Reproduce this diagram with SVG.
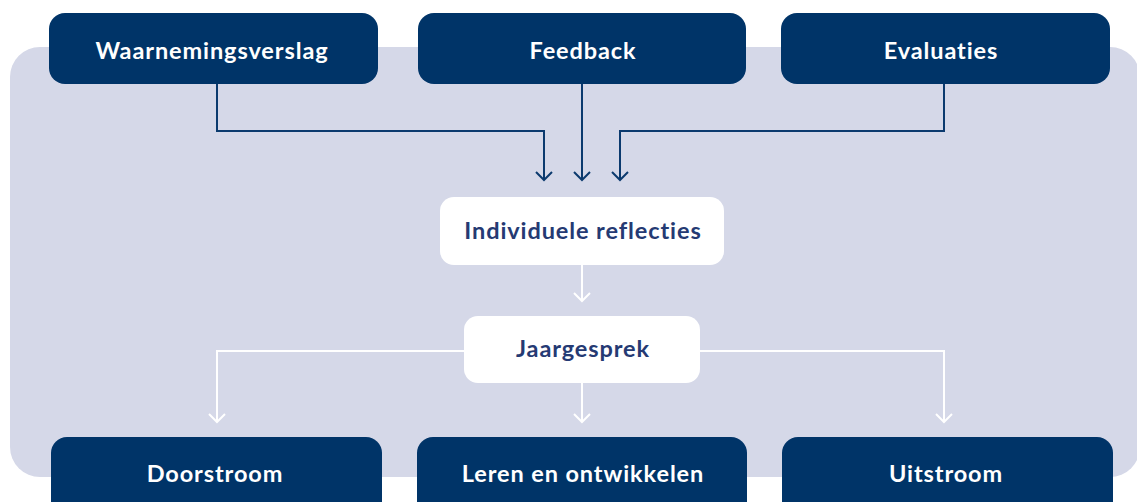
<svg xmlns="http://www.w3.org/2000/svg" width="1137" height="502" viewBox="0 0 1137 502">
  <defs>
    <style>
      .panel { fill: #d5d8e8; }
      .dark rect { fill: #003468; }
      .dark text { fill: #ffffff; }
      .light rect { fill: #ffffff; }
      .light text { fill: #253a73; }
      text { font-family: Lato, "Liberation Sans", sans-serif; font-weight: 700; font-size: 23.5px; letter-spacing: 0.9px; text-anchor: middle; }
      .in { fill: none; stroke: #0b3a6e; stroke-width: 2; }
      .out { fill: none; stroke: #ffffff; stroke-width: 2; }
    </style>
    <marker id="headDark" viewBox="0 0 20 20" refX="10" refY="10" markerWidth="20" markerHeight="20" markerUnits="userSpaceOnUse" orient="auto">
      <path d="M2,2 L10,10 L2,18" fill="none" stroke="#0b3a6e" stroke-width="2"/>
    </marker>
    <marker id="headLight" viewBox="0 0 20 20" refX="10" refY="10" markerWidth="20" markerHeight="20" markerUnits="userSpaceOnUse" orient="auto">
      <path d="M2,2 L10,10 L2,18" fill="none" stroke="#ffffff" stroke-width="2"/>
    </marker>
  </defs>

  <rect class="panel" x="10" y="47" width="1130" height="430" rx="30"/>

  <g id="connectors">
    <path class="in" d="M217,84 V131 H544 V180" marker-end="url(#headDark)"/>
    <path class="in" d="M582,84 V180" marker-end="url(#headDark)"/>
    <path class="in" d="M944,84 V131 H620 V180" marker-end="url(#headDark)"/>
    <path class="out" d="M582,265 V301" marker-end="url(#headLight)"/>
    <path class="out" d="M464,351 H217 V422" marker-end="url(#headLight)"/>
    <path class="out" d="M582,383 V422" marker-end="url(#headLight)"/>
    <path class="out" d="M700,351 H944 V422" marker-end="url(#headLight)"/>
  </g>

  <g id="waarnemingsverslag" class="dark">
    <rect x="49" y="13" width="329" height="71" rx="16"/>
    <text x="212" y="59">Waarnemingsverslag</text>
  </g>
  <g id="feedback" class="dark">
    <rect x="418" y="13" width="328" height="71" rx="16"/>
    <text x="583" y="59">Feedback</text>
  </g>
  <g id="evaluaties" class="dark">
    <rect x="781" y="13" width="329" height="71" rx="16"/>
    <text x="941" y="59">Evaluaties</text>
  </g>

  <g id="individuele-reflecties" class="light">
    <rect x="440" y="197" width="284" height="68" rx="14"/>
    <text x="583" y="239">Individuele reflecties</text>
  </g>
  <g id="jaargesprek" class="light">
    <rect x="464" y="316" width="236" height="67" rx="14"/>
    <text x="583" y="357">Jaargesprek</text>
  </g>

  <g id="doorstroom" class="dark">
    <rect x="51" y="437" width="331" height="90" rx="16"/>
    <text x="215" y="482">Doorstroom</text>
  </g>
  <g id="leren-en-ontwikkelen" class="dark">
    <rect x="417" y="437" width="330" height="90" rx="16"/>
    <text x="583" y="482">Leren en ontwikkelen</text>
  </g>
  <g id="uitstroom" class="dark">
    <rect x="782" y="437" width="331" height="90" rx="16"/>
    <text x="946" y="482">Uitstroom</text>
  </g>
</svg>
